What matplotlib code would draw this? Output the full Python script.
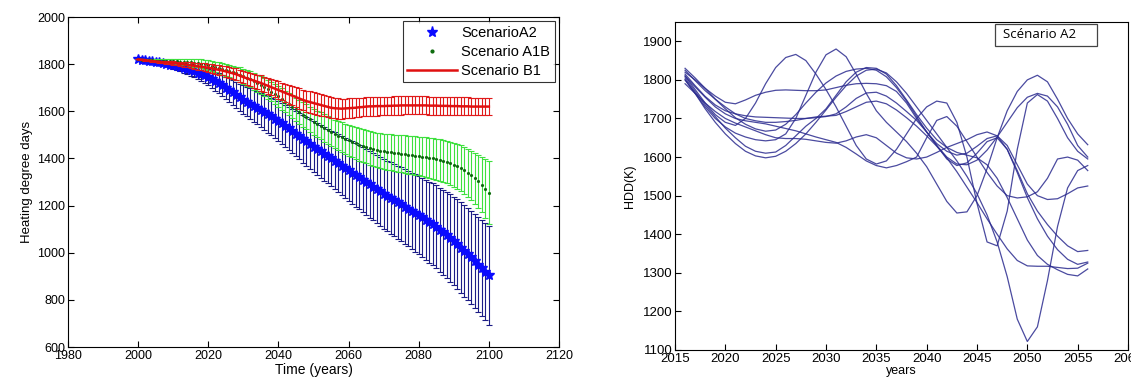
import numpy as np
import matplotlib
matplotlib.use("Agg")
import matplotlib.pyplot as plt
from matplotlib.lines import Line2D
from matplotlib.patches import Rectangle

plt.rcParams['font.family'] = ['Liberation Sans', 'DejaVu Sans']

# ---------------- left panel: scenario means and spreads ----------------
years_left = list(range(2000, 2101))

a2_mean = [1820, 1819, 1817, 1815, 1813, 1810, 1807, 1804, 1801, 1798,
           1795, 1791, 1787, 1783, 1779, 1775, 1770, 1764, 1758, 1752,
           1745, 1737, 1728, 1719, 1710, 1700, 1690, 1680, 1670, 1660,
           1650, 1641, 1632, 1623, 1614, 1605, 1596, 1587, 1578, 1569,
           1560, 1549, 1538, 1527, 1516, 1505, 1494, 1483, 1472, 1461,
           1450, 1440, 1430, 1420, 1410, 1400, 1390, 1380, 1370, 1360,
           1350, 1340, 1330, 1320, 1310, 1300, 1290, 1280, 1270, 1260,
           1250, 1241, 1232, 1223, 1214, 1205, 1196, 1187, 1178, 1169,
           1160, 1150, 1140, 1130, 1120, 1110, 1098, 1086, 1074, 1062,
           1050, 1036, 1022, 1008, 994, 980, 965, 950, 935, 920,
           905]
a2_err = [0, 1, 2, 3, 4, 5, 6, 8, 10, 12,
          14, 16, 18, 20, 22, 24, 26, 28, 30, 32,
          35, 37, 40, 42, 45, 47, 50, 52, 55, 57,
          60, 62, 65, 67, 70, 72, 75, 77, 80, 82,
          85, 87, 89, 92, 94, 96, 98, 101, 103, 105,
          107, 110, 112, 114, 116, 118, 121, 123, 125, 127,
          130, 132, 134, 135, 137, 139, 141, 143, 144, 146,
          148, 150, 152, 153, 155, 157, 159, 160, 162, 164,
          165, 167, 169, 172, 174, 176, 178, 181, 183, 185,
          187, 190, 192, 194, 196, 198, 201, 203, 205, 207,
          210]

a1b_mean = [1820, 1819, 1818, 1817, 1816, 1815, 1815, 1814, 1814, 1813,
            1813, 1812, 1811, 1810, 1809, 1808, 1806, 1804, 1802, 1799,
            1796, 1792, 1788, 1784, 1780, 1776, 1771, 1766, 1761, 1755,
            1749, 1742, 1735, 1727, 1719, 1711, 1702, 1693, 1683, 1673,
            1663, 1652, 1641, 1630, 1619, 1608, 1597, 1586, 1576, 1566,
            1556, 1547, 1538, 1529, 1520, 1512, 1504, 1497, 1490, 1483,
            1477, 1471, 1465, 1459, 1454, 1449, 1444, 1440, 1436, 1433,
            1430, 1428, 1426, 1424, 1422, 1420, 1418, 1416, 1414, 1412,
            1410, 1408, 1406, 1403, 1400, 1397, 1393, 1389, 1384, 1379,
            1373, 1366, 1358, 1349, 1339, 1328, 1316, 1303, 1288, 1272,
            1255]
a1b_err = [0, 1, 2, 3, 4, 5, 6, 7, 8, 9,
           10, 11, 12, 13, 14, 15, 16, 17, 18, 20,
           21, 22, 23, 24, 25, 26, 27, 28, 29, 31,
           32, 33, 34, 35, 36, 37, 39, 40, 41, 42,
           44, 45, 46, 47, 48, 50, 51, 52, 53, 54,
           55, 56, 57, 58, 59, 60, 61, 62, 63, 64,
           65, 66, 67, 68, 69, 70, 71, 72, 73, 74,
           75, 76, 76, 77, 78, 79, 80, 80, 81, 82,
           82, 83, 84, 85, 86, 87, 88, 89, 90, 91,
           93, 95, 97, 99, 102, 105, 108, 112, 117, 125,
           135]

b1_mean = [1820, 1819, 1817, 1815, 1813, 1811, 1810, 1808, 1807, 1806,
           1805, 1803, 1801, 1799, 1797, 1795, 1793, 1791, 1789, 1787,
           1785, 1782, 1779, 1776, 1773, 1769, 1765, 1761, 1757, 1751,
           1745, 1740, 1735, 1730, 1725, 1720, 1714, 1708, 1702, 1696,
           1690, 1684, 1678, 1672, 1666, 1660, 1654, 1648, 1643, 1639,
           1635, 1631, 1627, 1623, 1619, 1615, 1613, 1612, 1611, 1612,
           1613, 1614, 1615, 1617, 1618, 1620, 1621, 1621, 1622, 1622,
           1622, 1623, 1623, 1624, 1624, 1625, 1625, 1625, 1625, 1625,
           1625, 1625, 1625, 1624, 1624, 1624, 1623, 1623, 1623, 1622,
           1622, 1622, 1621, 1621, 1621, 1620, 1620, 1620, 1620, 1620,
           1620]
b1_err = [0, 1, 2, 2, 3, 4, 5, 5, 6, 7,
          8, 8, 9, 10, 11, 12, 13, 14, 15, 16,
          17, 18, 19, 20, 21, 22, 23, 24, 25, 26,
          27, 28, 29, 30, 31, 32, 33, 34, 35, 36,
          37, 38, 39, 40, 41, 42, 43, 44, 44, 45,
          45, 45, 45, 44, 44, 44, 43, 43, 42, 42,
          42, 41, 41, 41, 40, 40, 40, 40, 40, 39,
          39, 39, 39, 39, 39, 39, 38, 38, 38, 38,
          38, 38, 38, 38, 38, 38, 38, 38, 38, 38,
          38, 38, 38, 38, 38, 37, 37, 37, 37, 37,
          37]

# ---------------- right panel: A2 runs ----------------
years_right = list(range(2016, 2057))

runs_a2 = [
    [1810, 1775, 1740, 1710, 1690, 1682, 1700, 1740, 1790, 1832, 1858, 1866, 1850, 1815,
     1775, 1730, 1680, 1630, 1595, 1582, 1590, 1620, 1660, 1700, 1730, 1745, 1740, 1690,
     1600, 1480, 1380, 1370, 1460, 1620, 1740, 1762, 1745, 1700, 1650, 1615, 1595],
    [1800, 1765, 1730, 1700, 1678, 1662, 1652, 1645, 1642, 1645, 1660, 1700, 1760, 1820,
     1865, 1880, 1860, 1815, 1765, 1720, 1690, 1665, 1640, 1610, 1575, 1530, 1485, 1455,
     1458, 1500, 1570, 1650, 1720, 1770, 1800, 1812, 1795, 1750, 1700, 1660, 1632],
    [1820, 1800, 1778, 1758, 1742, 1738, 1748, 1760, 1768, 1773, 1774, 1773, 1772, 1772,
     1774, 1780, 1786, 1790, 1791, 1790, 1785, 1770, 1740, 1700, 1665, 1635, 1615, 1605,
     1610, 1628, 1648, 1655, 1630, 1580, 1530, 1500, 1490, 1492, 1505, 1520, 1525],
    [1815, 1785, 1757, 1735, 1720, 1712, 1707, 1704, 1703, 1702, 1701, 1700, 1700, 1702,
     1705, 1712, 1730, 1752, 1766, 1768, 1758, 1740, 1718, 1695, 1665, 1630, 1595, 1578,
     1585, 1610, 1640, 1650, 1620, 1565, 1505, 1460, 1425, 1395, 1370, 1355, 1358],
    [1800, 1765, 1725, 1690, 1660, 1635, 1615, 1603, 1598, 1602, 1615, 1635, 1660, 1690,
     1722, 1755, 1785, 1810, 1825, 1828, 1818, 1795, 1765, 1730, 1695, 1660, 1625, 1590,
     1550, 1505, 1450, 1380, 1290, 1180, 1122, 1160, 1280, 1420, 1520, 1565, 1578],
    [1805, 1770, 1735, 1705, 1675, 1650, 1628, 1615, 1610, 1613, 1630, 1655, 1680, 1700,
     1725, 1760, 1795, 1820, 1832, 1830, 1815, 1785, 1748, 1710, 1675, 1645, 1625, 1612,
     1605, 1598, 1580, 1545, 1495, 1440, 1385, 1345, 1322, 1308, 1296, 1292, 1310],
    [1790, 1765, 1740, 1718, 1700, 1688, 1678, 1668, 1658, 1650, 1648, 1648, 1646, 1642,
     1638, 1636, 1642, 1652, 1658, 1650, 1630, 1610, 1598, 1595, 1600, 1612, 1625, 1635,
     1645, 1658, 1665, 1655, 1620, 1560, 1495, 1440, 1395, 1360, 1335, 1322, 1328],
    [1810, 1782, 1755, 1730, 1712, 1700, 1694, 1690, 1686, 1680, 1674, 1668, 1660, 1652,
     1645, 1638, 1625, 1608, 1590, 1578, 1572, 1578, 1588, 1600, 1650, 1695, 1705, 1680,
     1640, 1600, 1560, 1525, 1500, 1494, 1497, 1510, 1545, 1595, 1600, 1592, 1565],
    [1825, 1798, 1772, 1750, 1730, 1712, 1700, 1694, 1690, 1690, 1692, 1695, 1700, 1704,
     1706, 1708, 1718, 1730, 1742, 1745, 1738, 1722, 1702, 1680, 1655, 1628, 1598, 1562,
     1522, 1482, 1440, 1400, 1362, 1332, 1318, 1317, 1317, 1314, 1311, 1312, 1325],
    [1830, 1805, 1778, 1750, 1725, 1702, 1685, 1673, 1667, 1670, 1685, 1710, 1740, 1768,
     1792, 1810, 1822, 1828, 1830, 1825, 1808, 1780, 1745, 1705, 1665, 1630, 1600, 1582,
     1580, 1592, 1618, 1652, 1690, 1728, 1755, 1765, 1758, 1730, 1685, 1630, 1600],
]

W, H = 1131, 382
fig = plt.figure(figsize=(W / 100, H / 100), dpi=100)

# left axes
ax1 = fig.add_axes([68 / W, 1 - 347 / H, (559 - 68) / W, (347 - 17) / H])
ax1.errorbar(years_left, a2_mean, yerr=a2_err, fmt='none', ecolor='#1c1c86',
             elinewidth=0.8, capsize=2.2, capthick=0.8, zorder=2)
ax1.plot(years_left, a2_mean, linestyle='none', marker='*', ms=7.5,
         color='#0a0aff', mec='#0a0aff', zorder=3)
ax1.errorbar(years_left, a1b_mean, yerr=a1b_err, fmt='none', ecolor='#3fe03f',
             elinewidth=0.8, capsize=2.2, capthick=0.8, zorder=4)
ax1.plot(years_left, a1b_mean, linestyle='none', marker='.', ms=2.5,
         color='#0d6b0d', zorder=5)
ax1.errorbar(years_left, b1_mean, yerr=b1_err, fmt='none', ecolor='#e01a1a',
             elinewidth=0.8, capsize=2.2, capthick=0.8, zorder=6)
ax1.plot(years_left, b1_mean, color='#e01010', lw=1.8, zorder=7)

ax1.set_xlim(1980, 2120)
ax1.set_ylim(600, 2000)
ax1.set_xticks(range(1980, 2121, 20))
ax1.set_yticks(range(600, 2001, 200))
ax1.tick_params(direction='in', top=True, right=True, labelsize=9, length=4,
                pad=2)
ax1.set_xlabel('Time (years)', fontsize=10, labelpad=1)
ax1.set_ylabel('Heating degree days', fontsize=9.5, labelpad=3)

handles = [
    Line2D([], [], linestyle='none', marker='*', ms=8, color='#0a0aff'),
    Line2D([], [], linestyle='none', marker='.', ms=4, color='#0d6b0d'),
    Line2D([], [], color='#e01010', lw=1.8),
]
leg = ax1.legend(handles, ['ScenarioA2', 'Scenario A1B', 'Scenario B1'],
                 loc='upper right', fontsize=10.5, frameon=True, fancybox=False,
                 edgecolor='black', handlelength=3.4, borderaxespad=0.3,
                 labelspacing=0.35, borderpad=0.3, handletextpad=0.3)
leg.get_frame().set_linewidth(0.8)

# right axes
ax2 = fig.add_axes([675 / W, 1 - 350 / H, (1128 - 675) / W, (350 - 22) / H])
for run in runs_a2:
    ax2.plot(years_right, run, color='#2b2b8f', lw=0.9, alpha=0.85)

ax2.set_xlim(2015, 2060)
ax2.set_ylim(1100, 1950)
ax2.set_xticks(range(2015, 2061, 5))
ax2.set_yticks(range(1100, 1901, 100))
ax2.tick_params(direction='in', labelsize=9.5, length=4, pad=2)
ax2.set_xlabel('years', fontsize=9, labelpad=0)
ax2.set_ylabel('HDD(K)', fontsize=9, labelpad=5)

ax2.add_patch(Rectangle((0.706, 0.927), 0.226, 0.067, transform=ax2.transAxes,
                        fc='white', ec='#444444', lw=0.9, zorder=5))
ax2.text(0.724, 0.961, 'Scénario A2', transform=ax2.transAxes,
         fontsize=9.5, family=['Open Sans', 'DejaVu Sans'], va='center',
         ha='left', zorder=6)

for a in (ax1, ax2):
    for s in a.spines.values():
        s.set_linewidth(0.8)

fig.savefig('out.png', dpi=100)
